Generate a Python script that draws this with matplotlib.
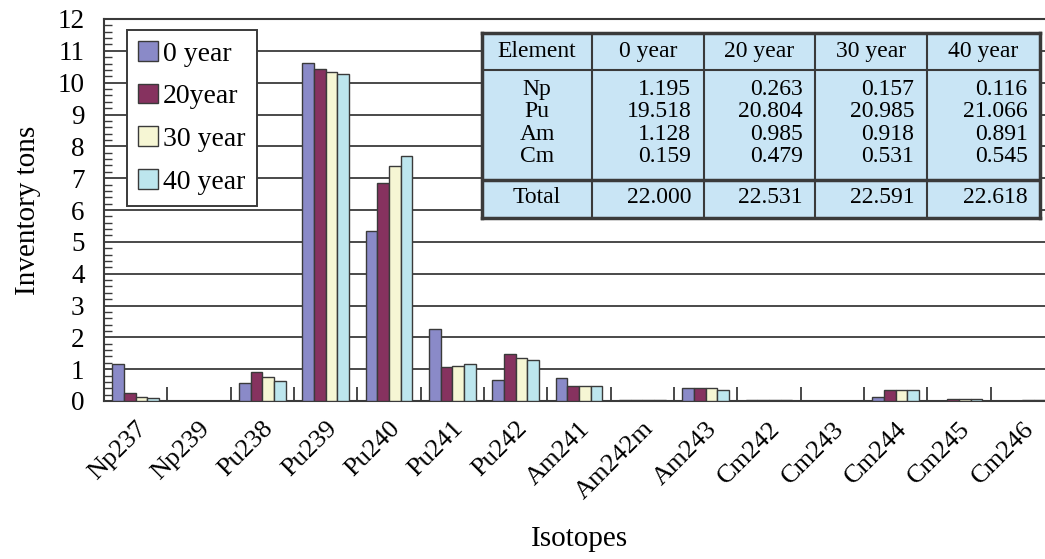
import matplotlib.pyplot as plt
from matplotlib.ticker import MultipleLocator
import numpy as np

# ---------------- data ----------------
isotopes = ["Np237", "Np239", "Pu238", "Pu239", "Pu240", "Pu241", "Pu242", "Am241",
            "Am242m", "Am243", "Cm242", "Cm243", "Cm244", "Cm245", "Cm246"]
series_names = ["0 year", "20year", "30 year", "40 year"]
year0 = [1.17, 0.0, 0.58, 10.62, 5.33, 2.25, 0.67, 0.71, 0.03, 0.40, 0.02, 0.0, 0.13, 0.0, 0.0]
year20 = [0.26, 0.0, 0.90, 10.44, 6.86, 1.07, 1.49, 0.48, 0.03, 0.40, 0.02, 0.0, 0.34, 0.07, 0.01]
year30 = [0.13, 0.0, 0.75, 10.35, 7.37, 1.11, 1.34, 0.48, 0.03, 0.40, 0.02, 0.0, 0.34, 0.07, 0.02]
year40 = [0.08, 0.0, 0.63, 10.26, 7.69, 1.17, 1.30, 0.48, 0.03, 0.34, 0.02, 0.0, 0.34, 0.07, 0.02]

table_header = ["Element", "0 year", "20 year", "30 year", "40 year"]
elements = ["Np", "Pu", "Am", "Cm"]
tab0 = ["1.195", "19.518", "1.128", "0.159"]
tab20 = ["0.263", "20.804", "0.985", "0.479"]
tab30 = ["0.157", "20.985", "0.918", "0.531"]
tab40 = ["0.116", "21.066", "0.891", "0.545"]
totals = ["22.000", "22.531", "22.591", "22.618"]

colors = ["#8a8ac8", "#86325f", "#f6f6d4", "#bde6ee"]
dark = "#3a3a3a"

plt.rcParams["font.family"] = ["Liberation Serif", "DejaVu Serif"]

# ---------------- figure ----------------
fig = plt.figure(figsize=(10.45, 5.59), dpi=100)
W, H = 1045, 559
ax = fig.add_axes([104 / W, 1 - 401 / H, 950 / W, 382 / H])

x = np.arange(len(isotopes))
w = 0.183
for i, (vals, name) in enumerate(zip([year0, year20, year30, year40], series_names)):
    ax.bar(x + (i - 1.5) * w, vals, width=w, color=colors[i], edgecolor=dark,
           linewidth=1.0, label=name, zorder=3)

ax.set_xlim(-0.5, len(isotopes) - 0.5)
ax.set_ylim(0, 12)
ax.set_yticks(range(0, 13))
ax.yaxis.set_minor_locator(MultipleLocator(0.2))
ax.grid(axis="y", color=dark, linewidth=1.3, zorder=1)

ax.set_xticks(x)
ax.set_xticklabels(isotopes, rotation=45, ha="right", rotation_mode="anchor", fontsize=19)
ax.set_xticks(np.arange(-0.5, len(isotopes)), minor=True)
ax.tick_params(axis="x", which="major", length=0, pad=12)
ax.tick_params(axis="x", which="minor", direction="in", length=10, width=1.3, color=dark)
ax.tick_params(axis="y", which="major", direction="in", length=0, labelsize=19.5, pad=14)
ax.tick_params(axis="y", which="minor", direction="in", length=6, width=1.0, color=dark)

for s in ax.spines.values():
    s.set_color(dark)
    s.set_linewidth(1.5)

ax.set_ylabel("Inventory tons", fontsize=21, labelpad=12)
ax.set_xlabel("Isotopes", fontsize=21, labelpad=16)

leg = ax.legend(loc="upper left", bbox_to_anchor=(127 / W, 1 - 30 / H),
                bbox_transform=fig.transFigure, borderaxespad=0, fontsize=20,
                fancybox=False, edgecolor=dark, framealpha=1, handlelength=0.7,
                handleheight=0.7, handletextpad=0.2, labelspacing=0.62,
                borderpad=0.4)
leg.get_frame().set_linewidth(1.4)
leg.set_zorder(5)

# ---------------- inset table ----------------
tx = fig.add_axes([482 / W, 1 - 218 / H, 558 / W, 185 / H])
tx.set_facecolor("#c9e5f5")
tx.set_xlim(0, 1)
tx.set_ylim(0, 1)
tx.set_xticks([])
tx.set_yticks([])
for s in tx.spines.values():
    s.set_color(dark)
    s.set_linewidth(2.5)

col_edges = [0, 0.197, 0.397, 0.597, 0.797, 1.0]
for cx in col_edges[1:-1]:
    tx.axvline(cx, color=dark, linewidth=1.5)
tx.axhline(0.80, color=dark, linewidth=1.5)
tx.axhline(0.205, color=dark, linewidth=2.5)

fs = 17
for j, h in enumerate(table_header):
    tx.text((col_edges[j] + col_edges[j + 1]) / 2, 0.90, h, ha="center", va="center", fontsize=fs)

row_y = [0.697, 0.575, 0.452, 0.330]
columns = [tab0, tab20, tab30, tab40]
for r, el in enumerate(elements):
    tx.text((col_edges[0] + col_edges[1]) / 2, row_y[r], el, ha="center", va="center", fontsize=fs)
    for c, col in enumerate(columns):
        tx.text(col_edges[c + 2] - 0.022, row_y[r], col[r], ha="right", va="center", fontsize=fs)

tx.text((col_edges[0] + col_edges[1]) / 2, 0.11, "Total", ha="center", va="center", fontsize=fs)
for c, t in enumerate(totals):
    tx.text(col_edges[c + 2] - 0.022, 0.11, t, ha="right", va="center", fontsize=fs)

fig.savefig("out.png", dpi=100)
